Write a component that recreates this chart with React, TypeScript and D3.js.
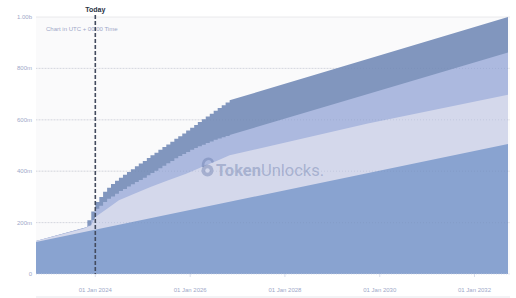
import React from "react";
import * as d3 from "d3";

// ---- data (cumulative supply, millions of tokens) ----
const startDate = "2022-10-01";
const endDate = "2032-09-15";

// bottom band top boundary (linear unlock)
const bottomDates = ["2022-10-01", "2032-09-15"];
const bottomValues = [125, 506];

// lightest band top boundary
const lightestDates = [
  "2022-10-01", "2023-10-01", "2023-12-01", "2024-01-01", "2024-04-01", "2024-07-01",
  "2024-11-01", "2025-03-01", "2025-07-01", "2025-12-01", "2026-04-01", "2026-08-01",
  "2026-11-01", "2029-10-01", "2032-09-15",
];
const lightestValues = [128, 176, 190, 222, 254, 287, 313, 339, 362, 390, 416, 442, 462, 586, 697];

// monthly cliff steps (start month) for the two stepped bands
const stepStart = "2023-11-01";
const lightBluePreDates = ["2022-10-01", "2023-11-01"];
const lightBluePreValues = [128, 183];
const lightBlueSteps = [
  188, 210, 254, 266, 280, 293, 302, 312, 323, 331, 340, 349, 358, 366, 375, 384, 393, 402,
  411, 421, 431, 440, 450, 459, 467, 475, 483, 490, 497, 503, 510, 516, 522, 527, 532, 537,
];
const lightBluePostDates = ["2026-11-01", "2032-09-15"];
const lightBluePostValues = [541, 862];

const darkPreDates = ["2022-10-01", "2023-11-01"];
const darkPreValues = [128, 183];
const darkSteps = [
  209, 243, 280, 300, 320, 336, 350, 363, 375, 386, 397, 408, 419, 430, 440, 451, 462, 472,
  483, 494, 504, 515, 526, 536, 547, 558, 569, 580, 591, 602, 613, 624, 635, 646, 657, 667,
];
const darkPostDates = ["2026-11-01", "2032-09-15"];
const darkPostValues = [676, 1000];

const yTicks = [0, 200, 400, 600, 800, 1000];
const yTickLabels = ["0", "200m", "400m", "600m", "800m", "1.00b"];
const xTicks = ["2024-01-01", "2026-01-01", "2028-01-01", "2030-01-01", "2032-01-01"];
const todayDate = "2024-01-01";

const colors = {
  bottom: "#89a3d0",
  lightest: "#d4d8eb",
  lightBlue: "#acb9df",
  dark: "#8196be",
};

const W = 516;
const H = 298;
const M = { left: 36, right: 8, top: 17, bottom: 24 };

const parse = d3.utcParse("%Y-%m-%d");
const fmt = d3.utcFormat("%d %b %Y");

type Pt = [Date, number];

function zipPts(dates: string[], values: number[]): Pt[] {
  return dates.map((d, i) => [parse(d) as Date, values[i]]);
}

function steppedBoundary(
  preD: string[], preV: number[], steps: number[], postD: string[], postV: number[]
): Pt[] {
  const pts: Pt[] = zipPts(preD, preV);
  let prev = preV[preV.length - 1];
  const s0 = parse(stepStart) as Date;
  steps.forEach((v, i) => {
    const d = d3.utcMonth.offset(s0, i);
    pts.push([d, prev]);
    pts.push([d, v]);
    prev = v;
  });
  const post = zipPts(postD, postV);
  pts.push([post[0][0], prev]);
  return pts.concat(post);
}

export default function App() {
  const x = d3
    .scaleUtc()
    .domain([parse(startDate) as Date, parse(endDate) as Date])
    .range([M.left, W - M.right]);
  const y = d3.scaleLinear().domain([0, 1000]).range([H - M.bottom, M.top]);

  const area = d3
    .area<Pt>()
    .x((d) => x(d[0]))
    .y0(y(0))
    .y1((d) => y(d[1]));

  const bands = [
    { key: "dark", pts: steppedBoundary(darkPreDates, darkPreValues, darkSteps, darkPostDates, darkPostValues), color: colors.dark },
    { key: "lightBlue", pts: steppedBoundary(lightBluePreDates, lightBluePreValues, lightBlueSteps, lightBluePostDates, lightBluePostValues), color: colors.lightBlue },
    { key: "lightest", pts: zipPts(lightestDates, lightestValues), color: colors.lightest },
    { key: "bottom", pts: zipPts(bottomDates, bottomValues), color: colors.bottom },
  ];

  const x0 = M.left;
  const x1 = W - M.right;
  const xToday = x(parse(todayDate) as Date);
  const font = "'Liberation Sans', Arial, sans-serif";

  return (
    <svg
      width={W}
      height={H}
      style={{ position: "absolute", left: 0, top: 0, background: "#fff" }}
      fontFamily={font}
    >
      <rect x={x0} y={y(1000)} width={x1 - x0 + 2} height={y(0) - y(1000)} fill="#fafafb" />
      {yTicks.map((t, i) => (
        <g key={t}>
          {t > 0 && (
            <line x1={x0} x2={x1 + 2} y1={y(t)} y2={y(t)} stroke="#e4e4e8" strokeWidth={0.8} />
          )}
          <text x={32} y={y(t) + 2} textAnchor="end" fontSize={6} fill="#9ea8c8">
            {yTickLabels[i]}
          </text>
        </g>
      ))}
      <text x={46} y={31} fontSize={6} fill="#9ea8c8">
        Chart in UTC + 00:00 Time
      </text>
      {bands.map((b) => (
        <path key={b.key} d={area(b.pts) || ""} fill={b.color} />
      ))}
      {yTicks.filter((t) => t > 0 && t < 1000).map((t) => (
        <line
          key={"o" + t}
          x1={x0}
          x2={x1}
          y1={y(t)}
          y2={y(t)}
          stroke="rgba(110,125,165,0.22)"
          strokeWidth={0.8}
          strokeDasharray="1 2"
        />
      ))}
      <line x1={x0} x2={x1 + 2} y1={y(0)} y2={y(0)} stroke="#c9cfe0" strokeWidth={0.8} strokeDasharray="1 1.5" />
      {xTicks.map((t) => {
        const xx = x(parse(t) as Date);
        return (
          <g key={t}>
            <line x1={xx} x2={xx} y1={y(0)} y2={y(0) + 3} stroke="#cfd4e4" strokeWidth={0.8} />
            <text x={xx} y={292} textAnchor="middle" fontSize={6} fill="#9ea8c8">
              {fmt(parse(t) as Date)}
            </text>
          </g>
        );
      })}
      <line x1={x0} x2={x1 + 2} y1={297} y2={297} stroke="#e6e7ec" strokeWidth={1} />
      {/* watermark */}
      <g fill="rgba(95,115,165,0.4)" stroke="none">
        <path
          d="M203,166 C203,158 211,157 212.5,161.5"
          fill="none"
          stroke="rgba(95,115,165,0.4)"
          strokeWidth={2.6}
          strokeLinecap="round"
        />
        <circle cx={207.5} cy={170.5} r={6} />
        <circle cx={207.5} cy={170.5} r={2.2} fill="rgba(215,220,238,0.9)" />
        <text x={216} y={176} fontSize={16.5} fontFamily="Roboto, sans-serif">
          <tspan fontWeight={700}>Token</tspan>
          <tspan fontWeight={400}>Unlocks.</tspan>
        </text>
      </g>
      {/* today marker */}
      <line
        x1={xToday}
        x2={xToday}
        y1={15}
        y2={y(0)}
        stroke="#434b5e"
        strokeWidth={1.6}
        strokeDasharray="4 2"
      />
      <text x={xToday} y={12} textAnchor="middle" fontSize={7} fontWeight={700} fill="#2c3345">
        Today
      </text>
    </svg>
  );
}
